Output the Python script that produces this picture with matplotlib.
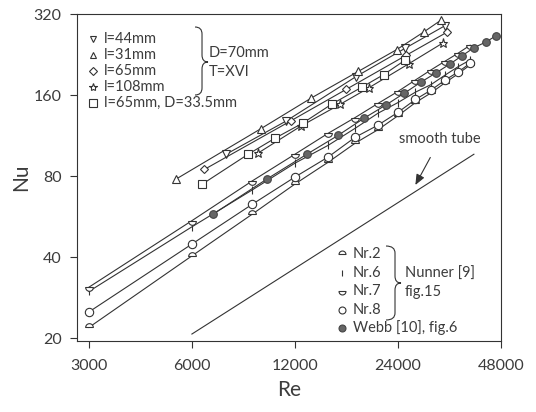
import matplotlib

matplotlib.use("Agg")
import matplotlib.pyplot as plt
from matplotlib.path import Path
from matplotlib.patches import PathPatch
from matplotlib.ticker import FixedLocator, FixedFormatter, NullLocator

plt.rcParams.update({"font.family": ["Lato", "DejaVu Sans"], "font.size": 10.5})

INK = "#333333"
TXT = "#3c3c3c"

# --- Nunner [9], fig.15 -------------------------------------------------
re_nunner = [3000, 6000, 9000, 12000, 15000, 18000, 21000, 24000, 27000, 30000, 33000, 36000, 39000]
nu_nr2 = [21.9, 40.4, 57.7, 74.7, 90, 106, 119, 134, 150, 163, 178, 192, 207]
nu_nr6 = [29.8, 51.8, 71.0, 89.3, 104, 120.4, 137, 150, 164, 175, 190, 204, 216]
nu_nr7 = [30.9, 54.6, 76.7, 96.4, 115.3, 132, 149, 165, 182, 198.5, 214, 229, 245]
nu_nr8 = [25.0, 44.7, 62.8, 79.3, 94.1, 111.5, 123.7, 138, 154, 167, 182, 195, 210]

# --- Webb [10], fig.6 ---------------------------------------------------
re_webb = [6930, 9940, 13000, 16060, 19060, 22070, 25060, 28080, 31050, 34100, 36960, 40050, 43400, 46500]
nu_webb = [57.8, 78.0, 96.4, 113.4, 131, 146.6, 162.6, 179, 193.6, 208.9, 224, 240, 252, 266]

# --- own measurements, D=70mm, T=XVI --------------------------------------
re_l44 = [7550, 11300, 18060, 25230, 33000]
nu_l44 = [96.4, 128, 187, 239, 290]
re_l31 = [5400, 9550, 13400, 18400, 23800, 28500, 32100]
nu_l31 = [78, 120, 156, 196, 236, 274, 304]
re_l65 = [6520, 11700, 16950, 25400, 33400]
nu_l65 = [84.6, 128.5, 168, 225, 274]
re_l108 = [9370, 12540, 16300, 19700, 25800, 32500]
nu_l108 = [97.4, 123, 148, 170, 209, 250]
re_l65_d33 = [6440, 8760, 10500, 12660, 15370, 18800, 21800, 25230]
nu_l65_d33 = [74.7, 96.4, 110.6, 125.9, 148, 171, 190.5, 216]

# --- smooth tube ----------------------------------------------------------
re_smooth = [6000, 40000]
nu_smooth = [20.7, 96.4]

x_ticks = [3000, 6000, 12000, 24000, 48000]
x_labels = ["3000", "6000", "12000", "24000", "48000"]
y_ticks = [20, 40, 80, 160, 320]
y_labels = ["20", "40", "80", "160", "320"]

upper_labels = ["l=44mm", "l=31mm", "l=65mm", "l=108mm", "l=65mm, D=33.5mm"]
lower_labels = ["Nr.2", "Nr.6", "Nr.7", "Nr.8", "Webb [10], fig.6"]

DOME = Path.wedge(0, 180)    # flat bottom, round top
BOWL = Path.wedge(180, 360)  # flat top, round bottom

fig = plt.figure(figsize=(5.36, 4.12), dpi=100)
ax = fig.add_axes([0.1437, 0.1723, 0.7910, 0.7937])

line_kw = dict(color=INK, linewidth=0.8)
open_kw = dict(mfc="white", mec=INK, mew=0.8)

series = [
    (re_l44, nu_l44, "v", 5.5),
    (re_l31, nu_l31, "^", 5.5),
    (re_l65, nu_l65, "D", 4.2),
    (re_l108, nu_l108, "*", 6.5),
    (re_l65_d33, nu_l65_d33, "s", 6),
    (re_nunner, nu_nr2, DOME, 5.5),
    (re_nunner, nu_nr6, "|", 5.5),
    (re_nunner, nu_nr7, BOWL, 5.5),
    (re_nunner, nu_nr8, "o", 6),
]
for re_, nu_, mk, ms in series:
    ax.plot(re_, nu_, marker=mk, ms=ms, **line_kw, **open_kw)

ax.plot(re_webb, nu_webb, marker="o", ms=5.5, mfc="#666666", mec="#444444", mew=0.8, **line_kw)
ax.plot(re_smooth, nu_smooth, **line_kw)

ax.annotate("smooth tube", xy=(26980, 74.1), xytext=(31900, 109.7), ha="center", va="center",
            color=TXT, fontsize=10.5,
            arrowprops=dict(arrowstyle="-|>,head_length=0.6,head_width=0.25", color=INK,
                            lw=0.8, shrinkA=7, shrinkB=0))

ax.set_xscale("log")
ax.set_yscale("log")
ax.set_xlim(2770, 48000)
ax.set_ylim(19.5, 320)
ax.xaxis.set_major_locator(FixedLocator(x_ticks))
ax.xaxis.set_major_formatter(FixedFormatter(x_labels))
ax.yaxis.set_major_locator(FixedLocator(y_ticks))
ax.yaxis.set_major_formatter(FixedFormatter(y_labels))
ax.xaxis.set_minor_locator(NullLocator())
ax.yaxis.set_minor_locator(NullLocator())
ax.tick_params(direction="out", length=5, width=0.8, color=INK, labelcolor=TXT, labelsize=11.5)
ax.tick_params(axis="x", pad=8)
ax.tick_params(axis="y", pad=6)
for sp in ax.spines.values():
    sp.set_color(INK)
    sp.set_linewidth(0.8)

ax.set_xlabel("Re", fontsize=15, color=TXT, labelpad=5)
ax.set_ylabel("Nu", fontsize=15, color=TXT, labelpad=2)


# in-plot legends, placed in image pixels of the axes box
AX_L, AX_R, AX_T, AX_B = 77, 501, 14, 341


def to_axes(px, py):
    return (px - AX_L) / (AX_R - AX_L), (AX_B - py) / (AX_B - AX_T)


def brace(x0, xm, x1, ytop, ymid, ybot, r=7):
    pts = [(x0, ytop), (xm, ytop), (xm, ytop + r), (xm, ymid - r), (xm, ymid), (x1, ymid),
           (xm, ymid), (xm, ymid + r), (xm, ybot - r), (xm, ybot), (x0, ybot)]
    codes = [Path.MOVETO, Path.CURVE3, Path.CURVE3, Path.LINETO, Path.CURVE3, Path.CURVE3,
             Path.CURVE3, Path.CURVE3, Path.LINETO, Path.CURVE3, Path.CURVE3]
    verts = [to_axes(*p) for p in pts]
    ax.add_patch(PathPatch(Path(verts, codes), fill=False, ec=INK, lw=0.8,
                           transform=ax.transAxes, clip_on=False))


def key_row(px, py, label, marker, ms, **kw):
    mx, my = to_axes(px, py)
    style = dict(open_kw)
    style.update(kw)
    ax.plot([mx], [my], marker=marker, ms=ms, ls="none", transform=ax.transAxes,
            clip_on=False, **style)
    tx, _ = to_axes(px + 11, py)
    ax.text(tx, my, label, transform=ax.transAxes, ha="left", va="center", color=TXT)


upper_marks = [("v", 5), ("^", 5), ("D", 4), ("*", 6), ("s", 6)]
for i, (label, (mk, ms)) in enumerate(zip(upper_labels, upper_marks)):
    key_row(93, 39 + 16 * i, label, mk, ms)
brace(195, 202, 208, 27, 62, 95)
for txt, py in [("D=70mm", 53), ("T=XVI", 72)]:
    tx, ty = to_axes(209, py)
    ax.text(tx, ty, txt, transform=ax.transAxes, ha="left", va="center", color=TXT)

lower_marks = [(DOME, 5, {}), ("|", 5, {}), (BOWL, 5, {}), ("o", 5, {}),
               ("o", 5, {"mfc": "#666666", "mec": "#444444"})]
for i, (label, (mk, ms, kw)) in enumerate(zip(lower_labels, lower_marks)):
    key_row(342, 254 + 18.5 * i, label, mk, ms, **kw)
brace(386, 395, 401, 246, 283, 320)
for txt, py in [("Nunner [9]", 274), ("fig.15", 292)]:
    tx, ty = to_axes(405, py)
    ax.text(tx, ty, txt, transform=ax.transAxes, ha="left", va="center", color=TXT)

fig.savefig("out.png", dpi=100)
